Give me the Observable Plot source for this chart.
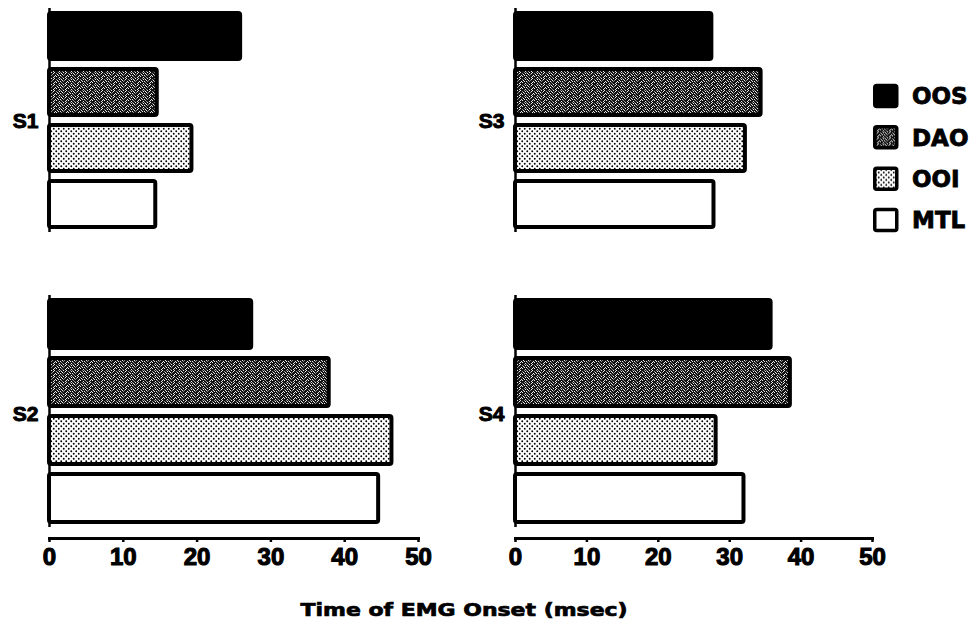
<!DOCTYPE html>
<html>
<head>
<meta charset="utf-8">
<script src="https://cdn.jsdelivr.net/npm/d3@7"></script>
<script src="https://cdn.jsdelivr.net/npm/@observablehq/plot@0.6"></script>
<style>
  body { margin: 0; background: #fff; }
  #chart { position: relative; width: 979px; height: 629px; overflow: hidden; background: #fff; }
  .panel { position: absolute; }
  .panel [aria-label="x-axis tick label"] text { stroke: #000; stroke-width: 1.1px; }
  .axis-title {
    position: absolute; left: 0; top: 601px; width: 928px; text-align: center;
    font: bold 18px "DejaVu Sans", sans-serif; line-height: 18px; color: #000;
    -webkit-text-stroke: 0.7px #000;
  }
  .axis-title span { display: inline-block; transform: scaleX(1.22); transform-origin: center; }
  .legend { position: absolute; left: 860px; top: 70px; }
</style>
</head>
<body>
<div id="chart"></div>
<script>
// Conditions (bar order within each subject) and their fills
const conditions = ["OOS", "DAO", "OOI", "MTL"];
const fills = ["#000", "url(#fill-dao)", "url(#fill-ooi)", "#fff"];

// EMG onset times (msec) per subject, in the order of `conditions`
const s1 = [25.9, 14.6, 19.3, 14.4];
const s2 = [27.4, 37.9, 46.4, 44.6];
const s3 = [27.5, 34.4, 32.2, 27.8];
const s4 = [35.8, 38.5, 28.1, 32.0];

const xTicks = [0, 10, 20, 30, 40, 50];
const axisTitle = "Time of EMG Onset (msec)";

const chart = d3.select("#chart");

// Shared fill patterns for the textured bars
const defs = chart.append("svg")
  .attr("width", 0).attr("height", 0)
  .style("position", "absolute")
  .append("defs");

// DAO: dark, mottled halftone
const dao = defs.append("pattern")
  .attr("id", "fill-dao").attr("patternUnits", "userSpaceOnUse")
  .attr("width", 12).attr("height", 6);
dao.append("rect").attr("width", 12).attr("height", 6).attr("fill", "#141414");
[[0,0],[3,0],[6,0],[10,0],[1,1],[5,1],[8,1],[11,1],[2,2],[4,2],[9,2],
 [0,3],[3,3],[7,3],[10,3],[1,4],[6,4],[8,4],[2,5],[5,5],[11,5]].forEach(([px, py], i) => {
  dao.append("rect").attr("x", px).attr("y", py).attr("width", 1).attr("height", 1)
    .attr("fill", i % 3 === 0 ? "#8a8a8a" : "#e6e6e6");
});

// OOI: staggered black dots on white
const ooi = defs.append("pattern")
  .attr("id", "fill-ooi").attr("patternUnits", "userSpaceOnUse")
  .attr("width", 5).attr("height", 5);
ooi.append("rect").attr("width", 5).attr("height", 5).attr("fill", "#fff");
ooi.append("circle").attr("cx", 1.25).attr("cy", 1.25).attr("r", 0.95).attr("fill", "#000");
ooi.append("circle").attr("cx", 3.75).attr("cy", 3.75).attr("r", 0.95).attr("fill", "#000");

// One subject's panel: four horizontal bars, optional x axis underneath
function panel(label, values, {showAxis, width, plotWidth, height, marginTop, marginBottom, yRange, labelDy}) {
  const rows = conditions.map((c, i) => ({condition: c, onset: values[i]}));
  const marks = [
    Plot.ruleX(rows, {x: () => 0, y1: "condition", y2: "condition", insetTop: -5, insetBottom: -5, stroke: "#000", strokeWidth: 2.5}),
    Plot.barX(rows, {x: "onset", y: "condition", fill: "condition", stroke: "#000", strokeWidth: 4, rx: 2}),
    Plot.text([label], {frameAnchor: "left", dx: -11, dy: labelDy, textAnchor: "end", fontSize: 21, fontWeight: "bold",
                        fill: "#000", stroke: "#000", strokeWidth: 1})
  ];
  if (showAxis) {
    marks.push(
      Plot.frame({anchor: "bottom", stroke: "#000", strokeWidth: 3}),
      Plot.axisX({ticks: xTicks, tickSize: 4, tickPadding: 5, strokeWidth: 2.5, label: null,
                  fontSize: 24, fontWeight: "bold", fill: "#000", stroke: "#000"})
    );
  }
  return Plot.plot({
    width, height,
    marginLeft: 49, marginRight: width - 49 - plotWidth,
    marginTop, marginBottom,
    style: {fontFamily: "'Liberation Sans', Arial, sans-serif", background: "transparent", overflow: "visible", color: "#000"},
    x: {domain: [0, 50], axis: null},
    y: {domain: conditions, axis: null, paddingInner: 0.17, paddingOuter: 0.03, ...(yRange ? {range: yRange} : {})},
    color: {type: "ordinal", domain: conditions, range: fills},
    marks
  });
}

const topOpts = {showAxis: false, height: 240, marginTop: 10, marginBottom: 9, labelDy: 0};
const bottomOpts = {showAxis: true, height: 300, marginTop: 18, marginBottom: 42, yRange: [18, 244], labelDy: -4};

const layout = [
  {label: "S1", values: s1, left: 0, top: 0, opts: {...topOpts, width: 432, plotWidth: 369}},
  {label: "S3", values: s3, left: 466, top: 0, opts: {...topOpts, width: 420, plotWidth: 357}},
  {label: "S2", values: s2, left: 0, top: 280, opts: {...bottomOpts, width: 432, plotWidth: 369}},
  {label: "S4", values: s4, left: 466, top: 280, opts: {...bottomOpts, width: 420, plotWidth: 357}}
];

for (const p of layout) {
  const svg = panel(p.label, p.values, p.opts);
  const holder = chart.append("div").attr("class", "panel")
    .style("left", p.left + "px").style("top", p.top + "px");
  holder.node().appendChild(svg);
}

// Legend: swatch + condition name, stacked vertically
const legendY = d3.scalePoint().domain(conditions).range([26, 150]);
const legend = chart.append("svg").attr("class", "legend").attr("width", 119).attr("height", 180);
const item = legend.selectAll("g").data(conditions).join("g")
  .attr("transform", d => `translate(0,${legendY(d)})`);
item.append("rect")
  .attr("x", 14.75).attr("y", -10.5).attr("width", 22).attr("height", 21).attr("rx", 2)
  .attr("fill", (d, i) => fills[i]).attr("stroke", "#000").attr("stroke-width", 3.5);
item.append("text")
  .attr("x", 52).attr("dy", "0.36em")
  .attr("font-family", "'DejaVu Sans', sans-serif").attr("font-weight", "bold").attr("font-size", 23)
  .attr("fill", "#000").attr("stroke", "#000").attr("stroke-width", 0.8)
  .text(d => d);

// Shared x-axis title
chart.append("div").attr("class", "axis-title").append("span").text(axisTitle);
</script>
</body>
</html>
